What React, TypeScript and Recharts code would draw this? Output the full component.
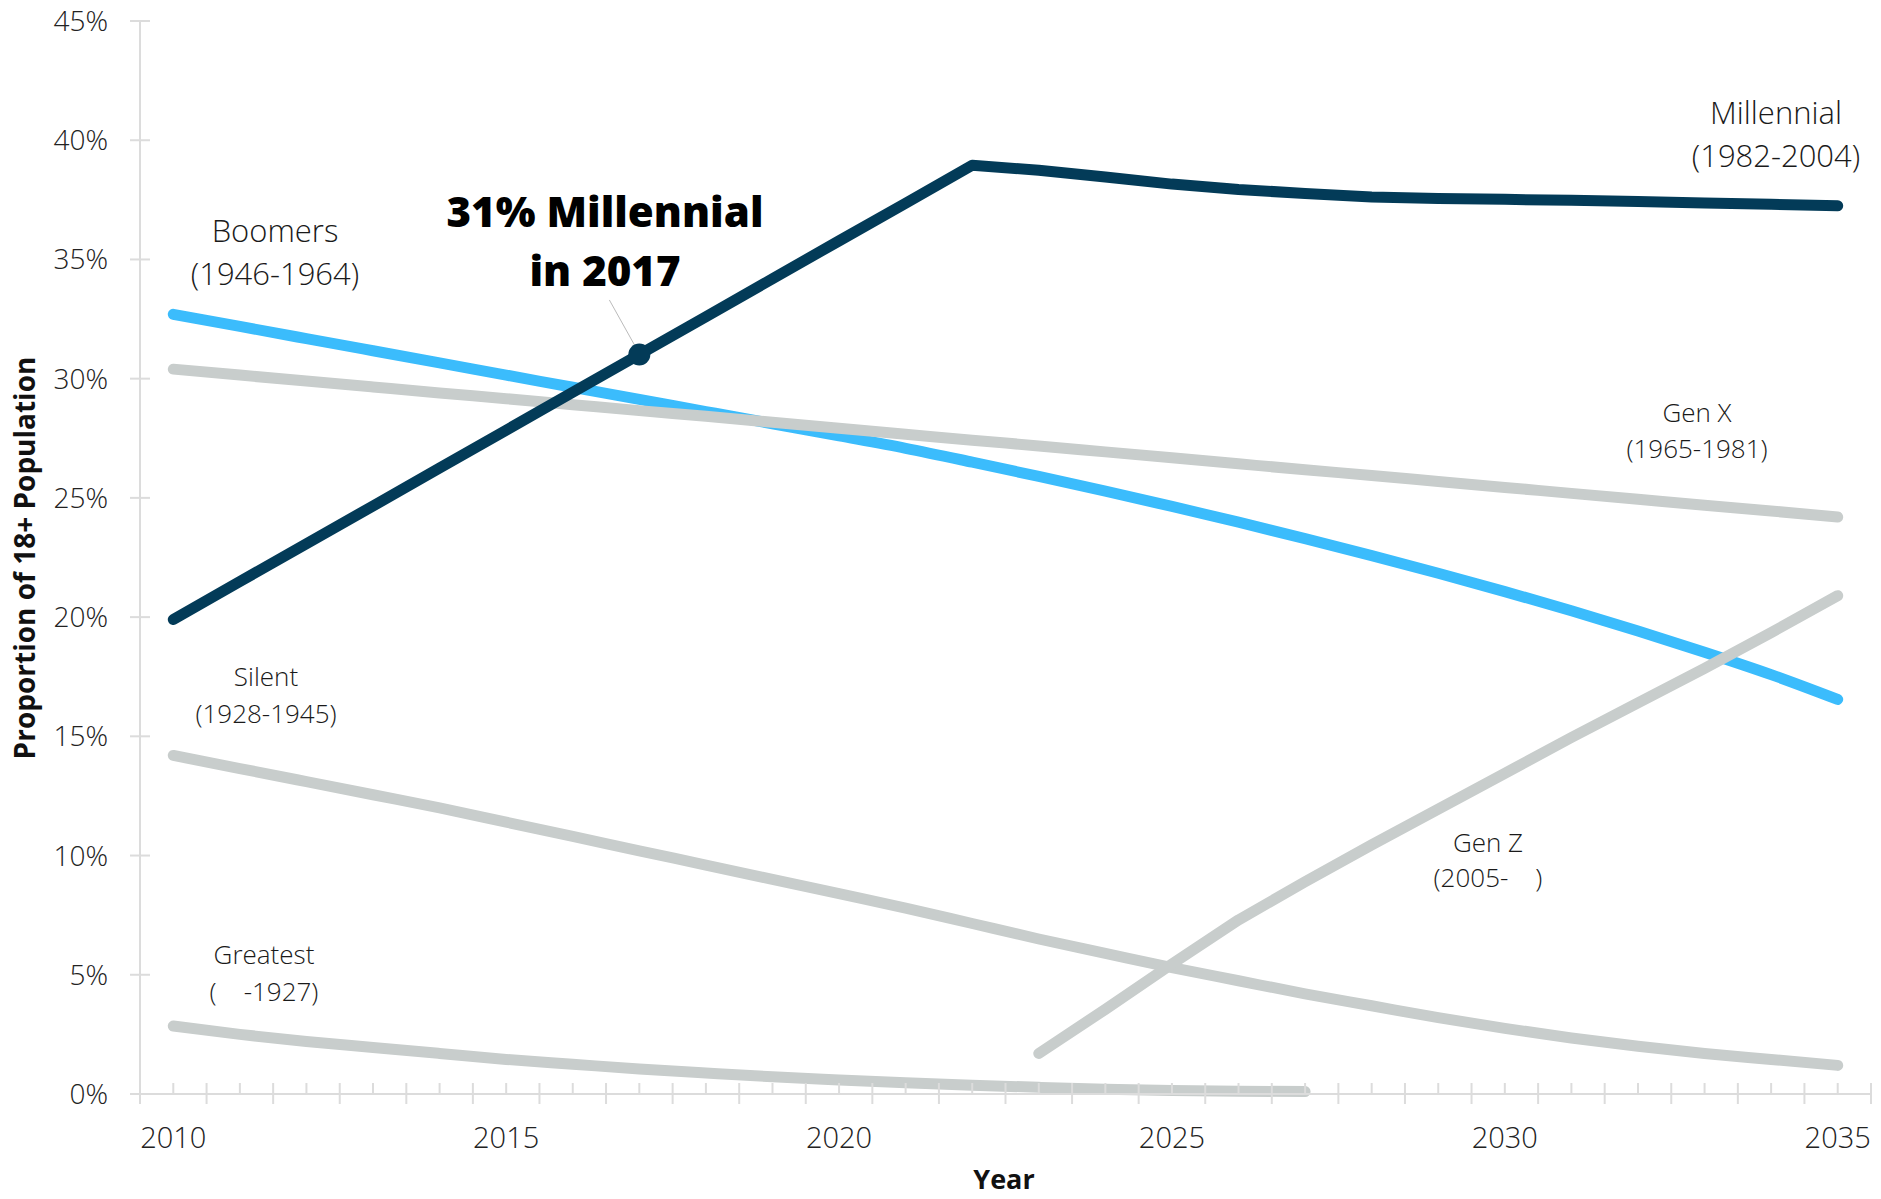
import React from "react";
import {
  LineChart,
  Line,
  XAxis,
  YAxis,
  ReferenceDot,
  ReferenceLine,
} from "recharts";

// values, one per year 2010..2035 (percent of 18+ population)
const years = [
  2010, 2011, 2012, 2013, 2014, 2015, 2016, 2017, 2018, 2019, 2020, 2021, 2022,
  2023, 2024, 2025, 2026, 2027, 2028, 2029, 2030, 2031, 2032, 2033, 2034, 2035,
];
const millennial = [
  19.9, 21.49, 23.08, 24.66, 26.25, 27.84, 29.43, 31.01, 32.6, 34.19, 35.78,
  37.36, 38.95, 38.74, 38.46, 38.16, 37.93, 37.77, 37.62, 37.56, 37.52, 37.48,
  37.43, 37.37, 37.31, 37.25,
];
const boomers = [
  32.7, 32.19, 31.68, 31.17, 30.66, 30.15, 29.64, 29.13, 28.62, 28.11, 27.6,
  27.08, 26.5, 25.9, 25.28, 24.64, 23.98, 23.29, 22.58, 21.84, 21.07, 20.27,
  19.42, 18.53, 17.59, 16.55,
];
const genX = [
  30.4, 30.15, 29.9, 29.65, 29.4, 29.16, 28.91, 28.66, 28.42, 28.17, 27.92,
  27.67, 27.42, 27.18, 26.93, 26.68, 26.43, 26.18, 25.94, 25.69, 25.44, 25.19,
  24.94, 24.69, 24.45, 24.2,
];
const silent = [
  14.2, 13.65, 13.1, 12.55, 12.0, 11.4, 10.8, 10.2, 9.6, 9.0, 8.4, 7.8, 7.15,
  6.5, 5.9, 5.3, 4.75, 4.2, 3.7, 3.2, 2.75, 2.35, 2.0, 1.7, 1.45, 1.2,
];
const greatest = [
  2.85, 2.5, 2.2, 1.95, 1.7, 1.45, 1.25, 1.05, 0.88, 0.72, 0.59, 0.47, 0.37,
  0.28, 0.2, 0.15, 0.12, 0.1, null, null, null, null, null, null, null, null,
];
const genZ = [
  null, null, null, null, null, null, null, null, null, null, null, null, null,
  1.7, 3.55, 5.45, 7.3, 8.9, 10.45, 11.95, 13.45, 14.95, 16.4, 17.85, 19.35,
  20.9,
];

const yTicks = [0, 5, 10, 15, 20, 25, 30, 35, 40, 45];
// minor ticks at every year, major ticks on the half years (category edges)
const xTicks: number[] = [];
for (let t = 2009.5; t <= 2035.5; t += 0.5) xTicks.push(t);

const data = years.map((year, i) => ({
  year,
  millennial: millennial[i],
  boomers: boomers[i],
  genX: genX[i],
  silent: silent[i],
  greatest: greatest[i],
  genZ: genZ[i],
}));

const DARK = "#033b58";
const BLUE = "#3bbcfc";
const GREY = "#c8cdcc";
const AXIS = "#dcdcdc";
const FONT = "'Open Sans', 'Noto Sans', sans-serif";

const XTick = (props: any) => {
  const { x, y, payload } = props;
  const v = payload.value as number;
  const whole = Number.isInteger(v);
  return (
    <g>
      <line
        x1={x}
        x2={x}
        y1={y - 11}
        y2={whole ? y : y + 10}
        stroke={AXIS}
        strokeWidth={2}
      />
      {whole && v % 5 === 0 && (
        <text
          x={x}
          y={y + 54}
          textAnchor="middle"
          fontFamily={FONT}
          fontWeight={300}
          fontSize={29}
          fill="#222"
        >
          {v}
        </text>
      )}
    </g>
  );
};

const YTick = (props: any) => {
  const { x, y, payload } = props;
  return (
    <g>
      <line x1={x - 10} x2={x + 10} y1={y} y2={y} stroke={AXIS} strokeWidth={2} />
      <text
        x={x - 32}
        y={y + 10}
        textAnchor="end"
        fontFamily={FONT}
        fontWeight={300}
        fontSize={28}
        fill="#222"
      >
        {payload.value}%
      </text>
    </g>
  );
};

const SeriesLabel: React.FC<{
  x: number;
  y: number;
  lines: string[];
  size: number;
  gap: number;
}> = ({ x, y, lines, size, gap }) => (
  <text
    x={x}
    y={y}
    textAnchor="middle"
    fontFamily={FONT}
    fontWeight={300}
    fontSize={size}
    fill="#1a1a1a"
    style={{ whiteSpace: "pre" }}
  >
    {lines.map((l, i) => (
      <tspan key={i} x={x} dy={i === 0 ? 0 : gap}>
        {l}
      </tspan>
    ))}
  </text>
);

const lineProps = {
  dot: false,
  activeDot: false,
  isAnimationActive: false,
  strokeWidth: 11,
  strokeLinecap: "round" as const,
  strokeLinejoin: "round" as const,
};

export default function App() {
  return (
    <div style={{ position: "absolute", left: 0, top: 0, width: 1881, height: 1199 }}>
      <LineChart
        width={1881}
        height={1199}
        data={data}
        margin={{ top: 21, right: 10, bottom: 0, left: 0 }}
      >
        <XAxis
          dataKey="year"
          type="number"
          domain={[2009.5, 2035.5]}
          ticks={xTicks}
          interval={0}
          height={105}
          tickSize={0}
          tickMargin={0}
          tickLine={false}
          axisLine={{ stroke: AXIS, strokeWidth: 2 }}
          tick={<XTick />}
        />
        <YAxis
          type="number"
          domain={[0, 45]}
          ticks={yTicks}
          interval={0}
          width={140}
          tickSize={0}
          tickMargin={0}
          tickLine={false}
          axisLine={{ stroke: AXIS, strokeWidth: 2 }}
          tick={<YTick />}
        />
        <Line type="monotone" dataKey="boomers" stroke={BLUE} {...lineProps} />
        <Line type="monotone" dataKey="genX" stroke={GREY} {...lineProps} />
        <Line type="monotone" dataKey="silent" stroke={GREY} {...lineProps} />
        <Line type="monotone" dataKey="greatest" stroke={GREY} {...lineProps} />
        <Line type="linear" dataKey="genZ" stroke={GREY} {...lineProps} />
        <Line type="linear" dataKey="millennial" stroke={DARK} {...lineProps} />
        <ReferenceLine
          segment={[
            { x: 2016.55, y: 33.3 },
            { x: 2016.93, y: 31.4 },
          ]}
          stroke="#bbbbbb"
          strokeWidth={1}
        />
        <ReferenceDot x={2017} y={31.01} r={11} fill={DARK} stroke="none" />
      </LineChart>
      <svg
        width={1881}
        height={1199}
        style={{ position: "absolute", left: 0, top: 0, pointerEvents: "none" }}
      >
        <SeriesLabel x={275} y={242} lines={["Boomers", "(1946-1964)"]} size={31} gap={43} />
        <SeriesLabel x={1776} y={124} lines={["Millennial", "(1982-2004)"]} size={31} gap={43} />
        <SeriesLabel x={1697} y={422} lines={["Gen X", "(1965-1981)"]} size={26} gap={36} />
        <SeriesLabel x={266} y={686} lines={["Silent", "(1928-1945)"]} size={26} gap={37} />
        <SeriesLabel x={264} y={964} lines={["Greatest", "(    -1927)"]} size={26} gap={37} />
        <SeriesLabel x={1488} y={852} lines={["Gen Z", "(2005-    )"]} size={26} gap={35} />
        <text
          x={605}
          y={227}
          textAnchor="middle"
          fontFamily={FONT}
          fontWeight={800}
          fontSize={42}
          fill="#000"
        >
          <tspan x={605}>31% Millennial</tspan>
          <tspan x={605} dy={59}>
            in 2017
          </tspan>
        </text>
        <text
          x={1004}
          y={1189}
          textAnchor="middle"
          fontFamily={FONT}
          fontWeight={700}
          fontSize={27}
          fill="#111"
        >
          Year
        </text>
        <text
          x={35}
          y={558}
          transform="rotate(-90, 35, 558)"
          textAnchor="middle"
          fontFamily={FONT}
          fontWeight={700}
          fontSize={28}
          fill="#111"
        >
          Proportion of 18+ Population
        </text>
      </svg>
    </div>
  );
}
